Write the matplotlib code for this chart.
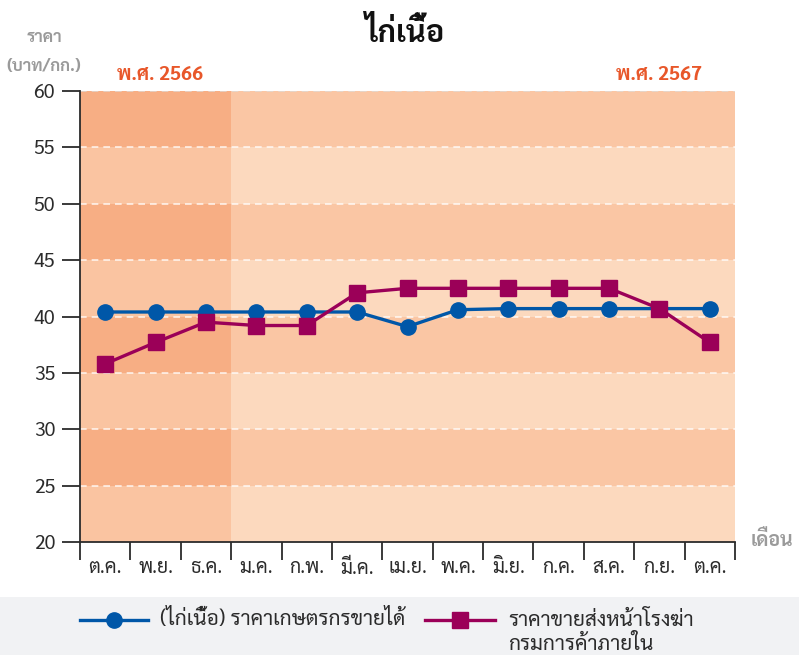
"""
Broiler chicken price chart (ไก่เนื้อ), Oct 2566 - Oct 2567.
"""

import matplotlib
matplotlib.use('Agg')
import matplotlib.pyplot as plt
import numpy as np
from matplotlib import font_manager
from matplotlib.ft2font import FT2Font
from matplotlib.patches import Rectangle
import matplotlib.transforms as mtransforms

# Data
months = ['ต.ค.', 'พ.ย.', 'ธ.ค.', 'ม.ค.', 'ก.พ.', 'มี.ค.', 'เม.ย.',
          'พ.ค.', 'มิ.ย.', 'ก.ค.', 'ส.ค.', 'ก.ย.', 'ต.ค.']
farm_price = [40.4, 40.4, 40.4, 40.4, 40.4, 40.4, 39.1,
              40.6, 40.7, 40.7, 40.7, 40.7, 40.7]
wholesale_price = [35.8, 37.7, 39.5, 39.2, 39.2, 42.1, 42.5,
                   42.5, 42.5, 42.5, 42.5, 40.7, 37.7]
farm_label = '(ไก่เนื้อ) ราคาเกษตรกรขายได้'
wholesale_label = 'ราคาขายส่งหน้าโรงฆ่า\nกรมการค้าภายใน'
n_first_year = 3  # months belonging to 2566


# Find a font that can draw Thai, preferring one with a bold face
def find_thai_family():
    weights = {}
    seen = set()
    for f in font_manager.fontManager.ttflist:
        if f.fname in seen:
            continue
        seen.add(f.fname)
        try:
            cmap = FT2Font(f.fname).get_charmap()
        except Exception:
            continue
        if 0x0E01 in cmap and 0x0E49 in cmap:
            w = f.weight if isinstance(f.weight, int) else 400
            weights.setdefault(f.name, set()).add(w)
    if not weights:
        return None
    prefs = ['Noto Sans Thai', 'Noto Sans Thai UI', 'Noto Sans Thai Looped',
             'Sarabun', 'Kanit', 'Prompt', 'Loma', 'Garuda']
    with_bold = [nm for nm, ws in weights.items() if max(ws) >= 600]
    for pref in prefs:
        if pref in with_bold:
            return pref
    if with_bold:
        return with_bold[0]
    for pref in prefs:
        if pref in weights:
            return pref
    return list(weights)[0]


thai = find_thai_family()
families = ([thai] if thai else []) + ['DejaVu Sans']
plt.rcParams['font.family'] = families

# Colors
blue = '#0057a8'
purple = '#9b0058'
orange_text = '#e8572a'
gray_text = '#9a9a9a'
dark = '#2b2b2b'
band_colors = {
    'left': ('#f7ae84', '#fac4a1'),
    'right': ('#fac6a4', '#fcd9be'),
}

fig = plt.figure(figsize=(7.99, 6.55), dpi=100)
ax = fig.add_axes([80 / 799, 1 - 542 / 655, 655 / 799, 451 / 655])

x = np.arange(len(months)) + 0.5
n = len(months)

# Background bands
for i, y0 in enumerate(range(20, 60, 5)):
    dark_band = (i % 2 == 1)
    cl = band_colors['left'][0 if dark_band else 1]
    cr = band_colors['right'][0 if dark_band else 1]
    ax.add_patch(Rectangle((0, y0), n_first_year, 5, color=cl, lw=0, zorder=0))
    ax.add_patch(Rectangle((n_first_year, y0), n - n_first_year, 5, color=cr, lw=0, zorder=0))

for y in range(25, 61, 5):
    ax.axhline(y, color='white' if y < 60 else '#dddddd', lw=1.2,
               ls=(0, (4, 3)), alpha=0.8, zorder=1)

ax.plot(x, farm_price, color=blue, lw=2.4, marker='o', ms=11, zorder=3)
ax.plot(x, wholesale_price, color=purple, lw=2.4, marker='s', ms=11.5, zorder=4)

ax.set_xlim(0, n)
ax.set_ylim(20, 60)
ax.set_yticks(range(20, 61, 5))
ax.set_xticks(range(0, n + 1))
ax.set_xticklabels([])
ax.set_xticks(x, minor=True)
ax.set_xticklabels(months, minor=True)
ax.tick_params(axis='x', which='major', length=13, width=1.3, color=dark)
ax.tick_params(axis='x', which='minor', length=0, labelsize=14, colors=dark, pad=12)
ax.tick_params(axis='y', length=13, width=1.3, color=dark, labelsize=14,
               labelcolor=dark, pad=5)

for s in ['top', 'right']:
    ax.spines[s].set_visible(False)
for s in ['left', 'bottom']:
    ax.spines[s].set_color(dark)
    ax.spines[s].set_linewidth(1.3)

# Titles and labels
fig.text(405 / 799, 1 - 34 / 655, 'ไก่เนื้อ', ha='center', va='center',
         fontsize=22, fontweight='bold', color='#111111')
fig.text(44 / 799, 1 - 37 / 655, 'ราคา', ha='center', va='center',
         fontsize=12, fontweight='bold', color=gray_text)
fig.text(44 / 799, 1 - 66 / 655, '(บาท/กก.)', ha='center', va='center',
         fontsize=12, fontweight='bold', color=gray_text)
fig.text(772 / 799, 1 - 540 / 655, 'เดือน', ha='center', va='center',
         fontsize=14, fontweight='bold', color=gray_text)

trans = mtransforms.blended_transform_factory(ax.transData, fig.transFigure)
ax.text(1.6, 1 - 75 / 655, 'พ.ศ. 2566', transform=trans, ha='center', va='center',
        fontsize=14, fontweight='bold', color=orange_text)
ax.text(11.5, 1 - 75 / 655, 'พ.ศ. 2567', transform=trans, ha='center', va='center',
        fontsize=14, fontweight='bold', color=orange_text)

# Legend strip
lax = fig.add_axes([0, 0, 1, 58 / 655])
lax.set_xlim(0, 799)
lax.set_ylim(655, 597)
lax.set_facecolor('#f1f2f4')
for s in lax.spines.values():
    s.set_visible(False)
lax.set_xticks([])
lax.set_yticks([])
lax.plot([80, 148], [620, 620], color=blue, lw=2.4)
lax.plot([114], [620], color=blue, marker='o', ms=11)
lax.text(160, 620, farm_label, ha='left', va='center', fontsize=15, color=dark)
lax.plot([425, 495], [620, 620], color=purple, lw=2.4)
lax.plot([460], [620], color=purple, marker='s', ms=11.5)
lax.text(508, 620, wholesale_label.split('\n')[0], ha='left', va='center',
         fontsize=15, color=dark)
lax.text(508, 645, wholesale_label.split('\n')[1], ha='left', va='center',
         fontsize=15, color=dark)

plt.savefig('out.png', dpi=100)
plt.close()
